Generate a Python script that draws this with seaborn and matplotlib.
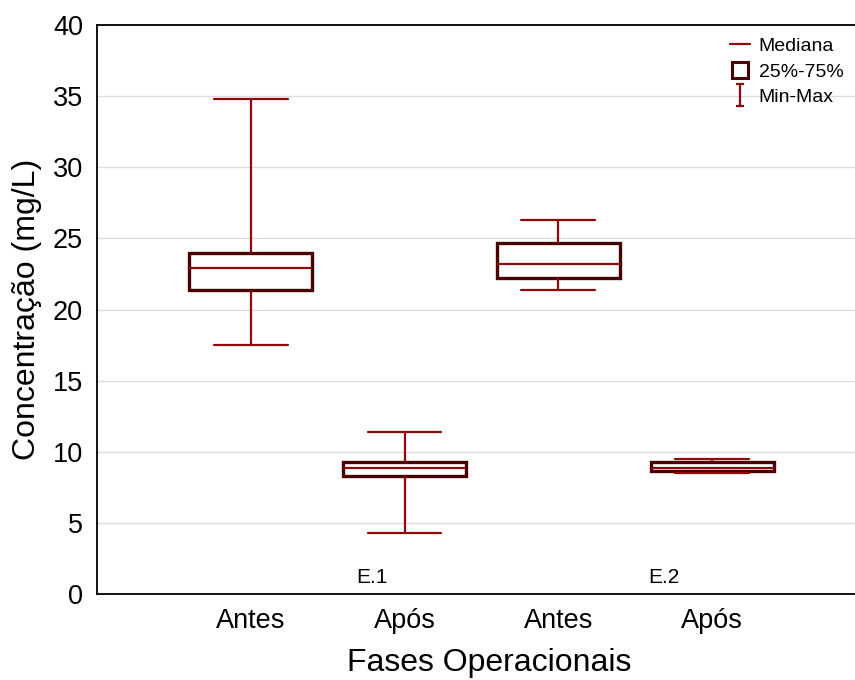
import numpy as np
import pandas as pd
import matplotlib
matplotlib.use("Agg")
import matplotlib.pyplot as plt
from matplotlib.lines import Line2D
from matplotlib.path import Path
import seaborn as sns

# Five-number summaries (min, Q1, median, Q3, max) per operational phase
groups = ["E.1 Antes", "E.1 Após", "E.2 Antes", "E.2 Após"]
tick_labels = ["Antes", "Após", "Antes", "Após"]
minimum = [17.5, 4.3, 21.4, 8.5]
q1 = [21.4, 8.3, 22.2, 8.67]
median = [22.9, 8.88, 23.2, 8.88]
q3 = [24.0, 9.26, 24.7, 9.28]
maximum = [34.8, 11.4, 26.3, 9.5]
stage_labels = ["E.1", "E.2"]
stage_label_x = [0.79, 2.69]

rows = []
for g, a, b, c, d, e in zip(groups, minimum, q1, median, q3, maximum):
    for v in (a, b, c, d, e):
        rows.append({"fase": g, "conc": v})
df = pd.DataFrame(rows)

RED = "#8c0a0a"
MAROON = "#480000"

sns.set_theme(style="white")
plt.rcParams["font.family"] = ["Liberation Sans", "DejaVu Sans"]
plt.rcParams["text.color"] = "black"
plt.rcParams["axes.labelcolor"] = "black"

fig = plt.figure(figsize=(8.55, 6.8), dpi=100)
ax = fig.add_axes([0.1135, 0.1265, 0.8865, 0.8365])

sns.boxplot(
    data=df, x="fase", y="conc", order=groups, ax=ax,
    whis=(0, 100), width=0.8, fill=True, color="white",
    linecolor=RED, showfliers=False, capwidths=0.48,
    boxprops=dict(facecolor="white", edgecolor=MAROON, linewidth=2.4),
    whiskerprops=dict(color=RED, linewidth=1.6),
    capprops=dict(color=RED, linewidth=1.6),
    medianprops=dict(color=RED, linewidth=1.6),
)

ax.set_xlim(-1.0, 3.93)
ax.set_ylim(0, 40)
ax.set_yticks(np.arange(0, 41, 5))
ax.set_xticks(range(len(groups)))
ax.set_xticklabels(tick_labels)
ax.yaxis.grid(True, color="#dcdcdc", linewidth=1.0)
ax.xaxis.grid(False)
ax.set_axisbelow(True)

for side in ("left", "bottom", "top"):
    ax.spines[side].set_visible(True)
    ax.spines[side].set_color("black")
    ax.spines[side].set_linewidth(1.3)
ax.spines["right"].set_visible(False)

ax.tick_params(axis="both", labelsize=19.5, colors="black", direction="in",
               length=3, width=1, pad=10)
ax.tick_params(axis="y", length=0)

ax.set_xlabel("Fases Operacionais", fontsize=23, labelpad=12, color="black")
ax.set_ylabel("Concentração (mg/L)", fontsize=23, labelpad=8, color="black")
ax.xaxis.set_label_coords(0.517, -0.095)

for lab, xp in zip(stage_labels, stage_label_x):
    ax.text(xp, 1.15, lab, ha="center", va="center", fontsize=15, color="black")

# Legend: median tick, interquartile box, min-max whisker glyph
iglyph = Path(
    [(-0.4, 1), (0.4, 1), (0, 1), (0, -1), (-0.4, -1), (0.4, -1)],
    [Path.MOVETO, Path.LINETO, Path.MOVETO, Path.LINETO, Path.MOVETO, Path.LINETO],
)
handles = [
    Line2D([], [], color=RED, linewidth=1.6),
    Line2D([], [], linestyle="none", marker="s", markersize=12,
           markerfacecolor="white", markeredgecolor=MAROON, markeredgewidth=2.2),
    Line2D([], [], linestyle="none", marker=iglyph, markersize=16,
           markerfacecolor="none", markeredgecolor=RED, markeredgewidth=1.6),
]
fig.legend(handles, ["Mediana", "25%-75%", "Min-Max"], loc="upper right",
           bbox_to_anchor=(1.0, 0.962), frameon=False, fontsize=14,
           handlelength=1.0, handletextpad=0.45, labelspacing=0.4,
           borderaxespad=0.2)

fig.savefig("out.png", dpi=100)
